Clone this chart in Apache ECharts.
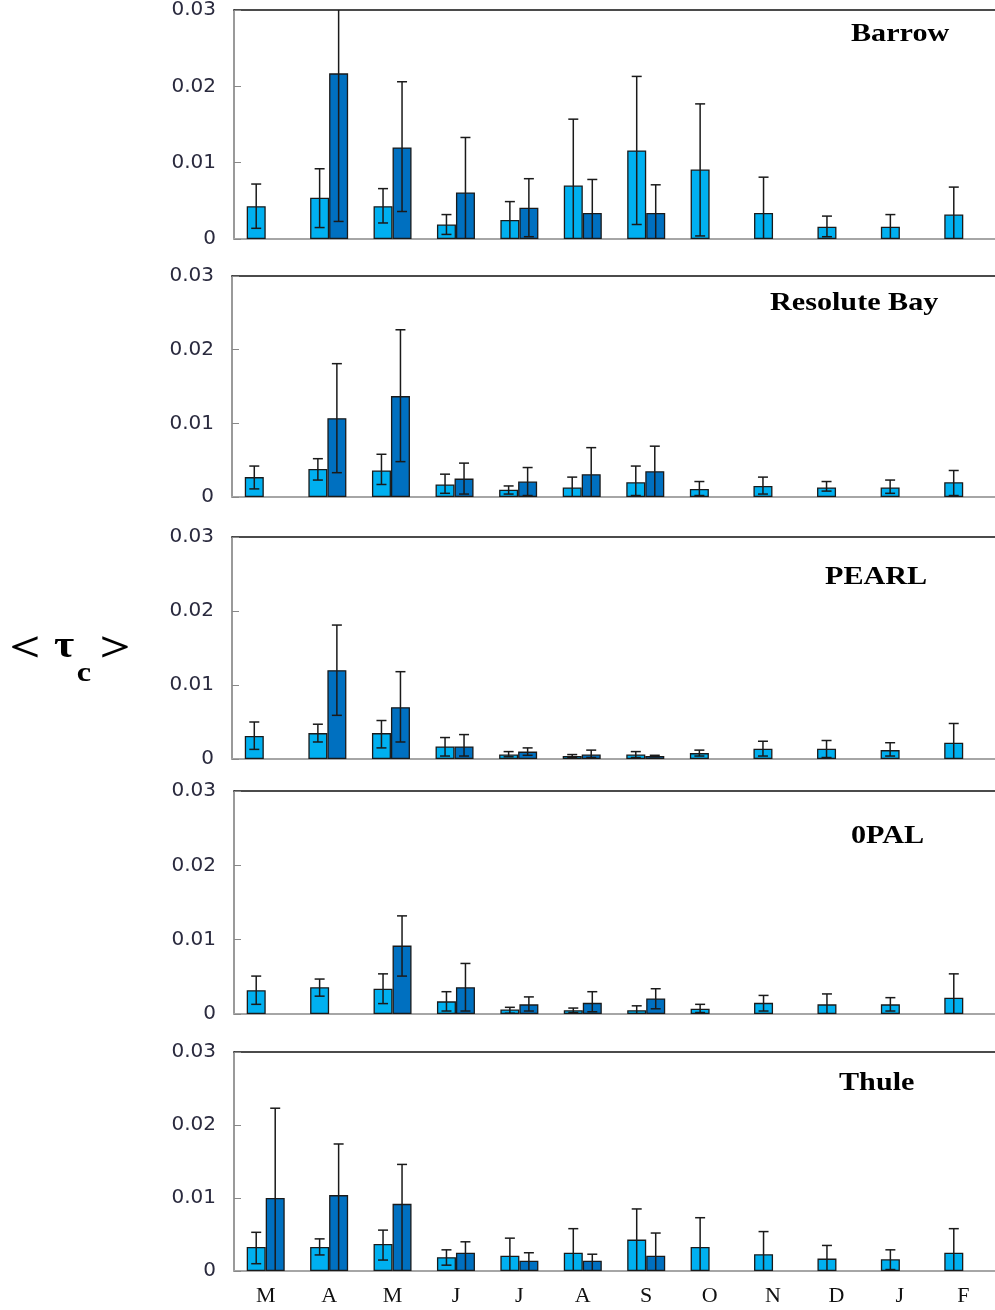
<!DOCTYPE html>
<html><head><meta charset="utf-8">
<script src="https://cdn.jsdelivr.net/npm/echarts/dist/echarts.min.js"></script>
<style>html,body{margin:0;padding:0;background:#fff}#c{width:995px;height:1310px}</style>
</head><body><div id="c"></div>
<script>
const months = ['M','A','M','J','J','A','S','O','N','D','J','F'];
const stations = ['Barrow','Resolute Bay','PEARL','0PAL','Thule'];
const yTicks = [0, 0.01, 0.02, 0.03];

const barrowLight   = [0.0043, 0.0054, 0.0043, 0.0019, 0.0025, 0.0070, 0.0116, 0.0091, 0.0034, 0.0016, 0.0016, 0.0032];
const barrowLightLo = [0.0014, 0.0015, 0.0021, 0.0006, 0, 0, 0.0019, 0.0004, 0, 0.0003, 0, 0];
const barrowLightHi = [0.0072, 0.0092, 0.0066, 0.0032, 0.0049, 0.0157, 0.0213, 0.0177, 0.0081, 0.0030, 0.0032, 0.0068];
const barrowDark    = [null, 0.0217, 0.0120, 0.0061, 0.0041, 0.0034, 0.0034, null, null, null, null, null];
const barrowDarkLo  = [null, 0.0023, 0.0036, 0, 0.0003, 0, 0, null, null, null, null, null];
const barrowDarkHi  = [null, 0.0410, 0.0206, 0.0133, 0.0079, 0.0078, 0.0071, null, null, null, null, null];

const resoluteLight   = [0.0027, 0.0038, 0.0036, 0.0017, 0.0010, 0.0013, 0.0020, 0.0011, 0.0015, 0.0013, 0.0013, 0.0020];
const resoluteLightLo = [0.0011, 0.0023, 0.0017, 0.0005, 0.0004, 0, 0.0002, 0.0002, 0.0004, 0.0008, 0.0005, 0.0002];
const resoluteLightHi = [0.0042, 0.0052, 0.0058, 0.0031, 0.0015, 0.0027, 0.0042, 0.0021, 0.0027, 0.0021, 0.0023, 0.0036];
const resoluteDark    = [null, 0.0107, 0.0137, 0.0025, 0.0021, 0.0031, 0.0035, null, null, null, null, null];
const resoluteDarkLo  = [null, 0.0033, 0.0048, 0.0004, 0.0002, 0, 0, null, null, null, null, null];
const resoluteDarkHi  = [null, 0.0181, 0.0227, 0.0046, 0.0040, 0.0067, 0.0069, null, null, null, null, null];

const pearlLight   = [0.0031, 0.0035, 0.0035, 0.0017, 0.0006, 0.0004, 0.0006, 0.0008, 0.0014, 0.0014, 0.0012, 0.0022];
const pearlLightLo = [0.0013, 0.0023, 0.0015, 0.0004, 0.0003, 0.0002, 0.0002, 0.0004, 0.0004, 0.0002, 0.0004, 0];
const pearlLightHi = [0.0050, 0.0047, 0.0052, 0.0029, 0.0010, 0.0006, 0.0010, 0.0012, 0.0024, 0.0025, 0.0022, 0.0048];
const pearlDark    = [null, 0.0120, 0.0070, 0.0017, 0.0010, 0.0006, 0.0004, null, null, null, null, null];
const pearlDarkLo  = [null, 0.0059, 0.0023, 0.0004, 0.0005, 0.0002, 0.0003, null, null, null, null, null];
const pearlDarkHi  = [null, 0.0181, 0.0118, 0.0033, 0.0015, 0.0012, 0.0005, null, null, null, null, null];

const opalLight   = [0.0032, 0.0036, 0.0034, 0.0017, 0.0006, 0.0005, 0.0005, 0.0007, 0.0015, 0.0013, 0.0013, 0.0022];
const opalLightLo = [0.0013, 0.0024, 0.0014, 0.0004, 0.0001, 0.0002, 0, 0.0002, 0.0004, 0, 0.0004, 0];
const opalLightHi = [0.0051, 0.0047, 0.0054, 0.0030, 0.0009, 0.0008, 0.0011, 0.0013, 0.0025, 0.0027, 0.0022, 0.0054];
const opalDark    = [null, null, 0.0092, 0.0036, 0.0013, 0.0015, 0.0021, null, null, null, null, null];
const opalDarkLo  = [null, null, 0.0051, 0.0004, 0.0004, 0.0003, 0.0007, null, null, null, null, null];
const opalDarkHi  = [null, null, 0.0132, 0.0068, 0.0023, 0.0030, 0.0034, null, null, null, null, null];

const thuleLight   = [0.0033, 0.0033, 0.0037, 0.0019, 0.0021, 0.0025, 0.0043, 0.0033, 0.0023, 0.0017, 0.0016, 0.0025];
const thuleLightLo = [0.0010, 0.0022, 0.0015, 0.0008, 0, 0, 0, 0, 0, 0, 0.0002, 0];
const thuleLightHi = [0.0053, 0.0044, 0.0056, 0.0029, 0.0045, 0.0058, 0.0085, 0.0073, 0.0054, 0.0035, 0.0029, 0.0058];
const thuleDark    = [0.0100, 0.0104, 0.0092, 0.0025, 0.0014, 0.0014, 0.0021, null, null, null, null, null];
const thuleDarkLo  = [0, 0, 0, 0, 0, 0, 0, null, null, null, null, null];
const thuleDarkHi  = [0.0223, 0.0174, 0.0146, 0.0040, 0.0025, 0.0023, 0.0052, null, null, null, null, null];

const panels = [
  {light: barrowLight, lightLo: barrowLightLo, lightHi: barrowLightHi, dark: barrowDark, darkLo: barrowDarkLo, darkHi: barrowDarkHi},
  {light: resoluteLight, lightLo: resoluteLightLo, lightHi: resoluteLightHi, dark: resoluteDark, darkLo: resoluteDarkLo, darkHi: resoluteDarkHi},
  {light: pearlLight, lightLo: pearlLightLo, lightHi: pearlLightHi, dark: pearlDark, darkLo: pearlDarkLo, darkHi: pearlDarkHi},
  {light: opalLight, lightLo: opalLightLo, lightHi: opalLightHi, dark: opalDark, darkLo: opalDarkLo, darkHi: opalDarkHi},
  {light: thuleLight, lightLo: thuleLightLo, lightHi: thuleLightHi, dark: thuleDark, darkLo: thuleDarkLo, darkHi: thuleDarkHi}
];

// layout only
const layout = [
  {left: 234, top: 8,    height: 231, tx: 851, ty: 34},
  {left: 232, top: 276,  height: 221, tx: 770, ty: 303},
  {left: 232, top: 537,  height: 222, tx: 825, ty: 577},
  {left: 234, top: 791,  height: 223, tx: 851, ty: 836},
  {left: 234, top: 1052, height: 219, tx: 839, ty: 1083}
];
const BAR_W = 19;
const LIGHT = '#00B0F0', DARK = '#0070C0', EDGE = '#1a1a1a';

function errSeries(i, vals, lo, hi, side) {
  const data = [];
  vals.forEach((v, k) => { if (v != null) data.push([k, lo[k], hi[k]]); });
  return {
    type: 'custom', xAxisIndex: 2 * i, yAxisIndex: i, clip: true, z: 5, silent: true,
    data: data, encode: {x: 0, y: [1, 2]},
    renderItem: function (params, api) {
      const k = api.value(0);
      const x = api.coord([k, 0])[0] + side * BAR_W / 2;
      const l = api.value(1), h = api.value(2);
      const yLo = api.coord([k, l])[1];
      const yHi = api.coord([k, h])[1];
      const style = {stroke: EDGE, lineWidth: 1.5};
      const ch = [
        {type: 'line', shape: {x1: x, y1: yLo, x2: x, y2: yHi}, style: style},
        {type: 'line', shape: {x1: x - 5, y1: yHi, x2: x + 5, y2: yHi}, style: style}
      ];
      if (l > 0) ch.push({type: 'line', shape: {x1: x - 5, y1: yLo, x2: x + 5, y2: yLo}, style: style});
      return {type: 'group', children: ch};
    }
  };
}

const grid = [], xAxis = [], yAxis = [], series = [], graphic = [];
panels.forEach((p, i) => {
  const L = layout[i];
  grid.push({left: L.left, top: L.top, height: L.height, width: 766});
  xAxis.push({
    gridIndex: i, type: 'category', data: months, boundaryGap: true,
    axisLine: {onZero: false, lineStyle: {color: '#a6a6a6', width: 2}},
    axisTick: {show: false},
    axisLabel: {show: i === 4, margin: 14, fontFamily: '"Liberation Serif", serif', fontSize: 22, color: '#111'}
  });
  xAxis.push({
    gridIndex: i, type: 'category', data: months, position: 'top',
    axisLine: {onZero: false, lineStyle: {color: '#111', width: 1.5}},
    axisTick: {show: false}, axisLabel: {show: false}
  });
  yAxis.push({
    gridIndex: i, type: 'value', min: yTicks[0], max: yTicks[yTicks.length - 1], interval: 0.01,
    axisLine: {show: true, lineStyle: {color: '#9a9a9a', width: 2}},
    axisTick: {show: true, inside: true, length: 7, lineStyle: {color: '#888', width: 1}},
    splitLine: {show: false},
    axisLabel: {margin: 18, fontFamily: '"DejaVu Sans", sans-serif', fontSize: 20, color: '#2a2a3e',
      padding: [5, 0, 0, 0],
      formatter: v => (v === 0 ? '0' : v.toFixed(2))}
  });
  series.push({type: 'bar', xAxisIndex: 2 * i, yAxisIndex: i, data: p.light, barWidth: BAR_W, barGap: '0%',
    itemStyle: {color: LIGHT, borderColor: EDGE, borderWidth: 1.3}, silent: true});
  series.push({type: 'bar', xAxisIndex: 2 * i, yAxisIndex: i, data: p.dark, barWidth: BAR_W, barGap: '0%',
    itemStyle: {color: DARK, borderColor: EDGE, borderWidth: 1.3}, silent: true});
  series.push(errSeries(i, p.light, p.lightLo, p.lightHi, -1));
  series.push(errSeries(i, p.dark, p.darkLo, p.darkHi, 1));
  graphic.push({type: 'text', x: L.tx, y: L.ty, scaleX: 1.16, z: 10,
    style: {text: stations[i], font: 'bold 26px "Liberation Serif"', fill: '#000', textAlign: 'left', textVerticalAlign: 'middle'}});
});

// y-axis title  < τc >
const yFont = '"Liberation Serif"';
graphic.push({type: 'text', x: 25, y: 650, scaleX: 1.3, style: {text: '<', font: 'bold 42px ' + yFont, fill: '#000', textAlign: 'center', textVerticalAlign: 'middle'}});
graphic.push({type: 'text', x: 64, y: 647, scaleX: 1.15, style: {text: 'τ', font: 'bold 38px ' + yFont, fill: '#000', textAlign: 'center', textVerticalAlign: 'middle'}});
graphic.push({type: 'text', x: 84, y: 674, scaleX: 1.15, style: {text: 'c', font: 'bold 28px ' + yFont, fill: '#000', textAlign: 'center', textVerticalAlign: 'middle'}});
graphic.push({type: 'text', x: 115, y: 650, scaleX: 1.3, style: {text: '>', font: 'bold 42px ' + yFont, fill: '#000', textAlign: 'center', textVerticalAlign: 'middle'}});

const chart = echarts.init(document.getElementById('c'), null, {renderer: 'canvas'});
chart.setOption({animation: false, backgroundColor: '#fff', grid, xAxis, yAxis, series, graphic});
</script>
</body></html>
